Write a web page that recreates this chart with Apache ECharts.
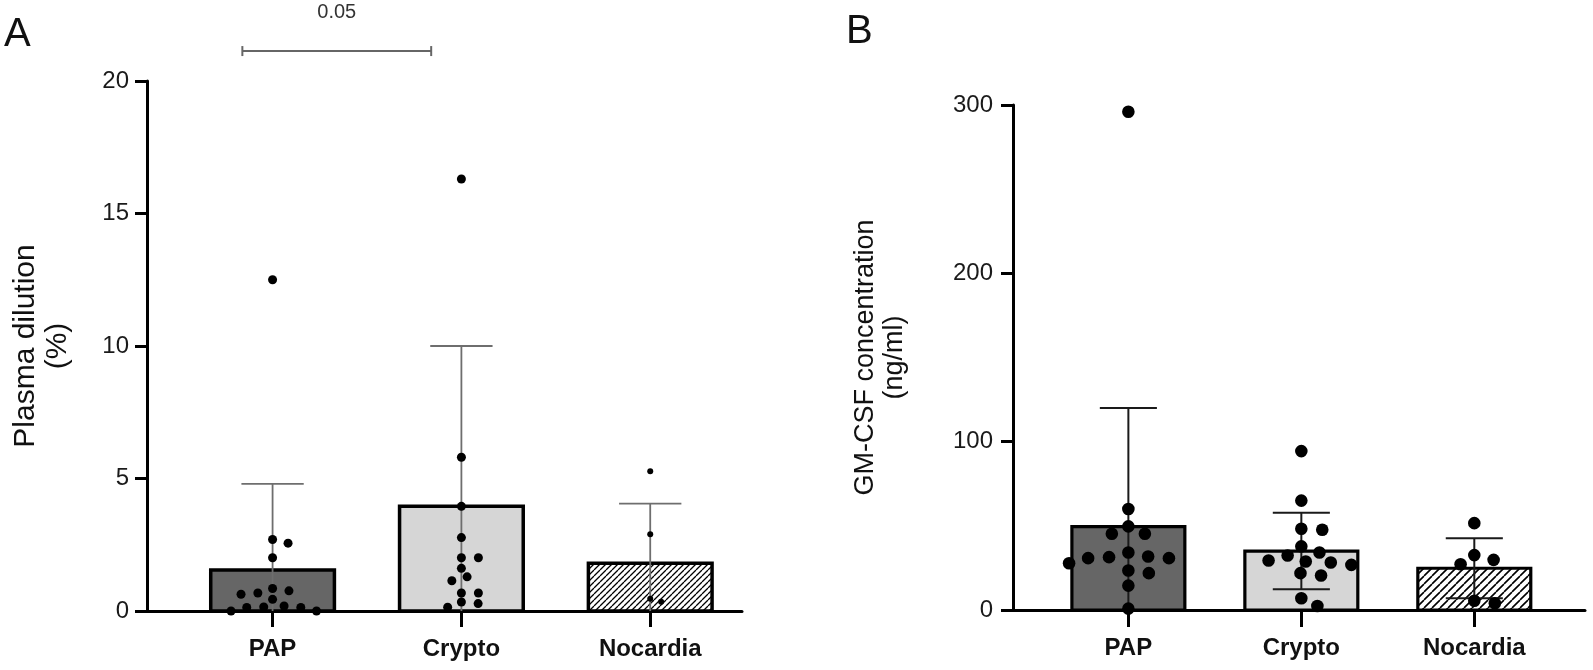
<!DOCTYPE html>
<html><head><meta charset="utf-8">
<script src="https://cdn.jsdelivr.net/npm/echarts@6/dist/echarts.min.js"></script>
<style>html,body{margin:0;padding:0;background:#fff}#c{width:1593px;height:670px}</style>
</head><body><div id="c"></div>
<script>
// ---------- data ----------
const categories = ['PAP', 'Crypto', 'Nocardia'];

// Panel A: Plasma dilution (%)
const plasmaTicks = [0, 5, 10, 15, 20];
const plasmaMeans = [1.55, 3.95, 1.8];
const plasmaSD = [3.25, 6.05, 2.25];
const plasmaPAP = [12.5, 2.70, 2.56, 2.01, 0.85, 0.76, 0.68, 0.63, 0.44, 0.19, 0.15, 0.13, 0.13, 0, 0];
const plasmaCrypto = [16.3, 5.8, 3.95, 2.77, 2.01, 2.01, 1.61, 1.29, 1.14, 0.68, 0.68, 0.34, 0.28, 0.14];
const plasmaNocardia = [5.27, 2.9, 0.46, 0.35];
const comparison = { from: 'PAP', to: 'Crypto', label: '0.05' };

// Panel B: GM-CSF concentration (ng/ml)
const gmTicks = [0, 100, 200, 300];
const gmMeans = [49.5, 35.0, 24.8];
const gmSD = [70.5, 22.7, 17.8];
const gmPAP = [296, 60, 49.7, 45.3, 45.3, 34.2, 31.8, 31.4, 30.8, 30.8, 27.8, 23.5, 21.9, 14.5, 0.8];
const gmCrypto = [94.4, 65, 48.3, 47.7, 37.8, 34.2, 32.4, 29.4, 28.8, 28.2, 26.8, 21.9, 20.5, 7.0, 2.4];
const gmNocardia = [51.6, 32.6, 29.8, 27.2, 5.5, 4.0];

// ---------- helpers ----------
const FONT = '"Liberation Sans", Arial, sans-serif';

function hatch(size, lw) {
  const c = document.createElement('canvas');
  c.width = size; c.height = size;
  const g = c.getContext('2d');
  g.fillStyle = '#fff'; g.fillRect(0, 0, size, size);
  g.strokeStyle = '#000'; g.lineWidth = lw;
  g.beginPath();
  for (let k = -1; k <= 1; k++) { g.moveTo(k * size, size); g.lineTo(k * size + size, 0); }
  g.stroke();
  return { image: c, repeat: 'repeat' };
}

function barSeries(gi, means, fills, borderW, widthFrac) {
  return {
    type: 'custom', xAxisIndex: gi, yAxisIndex: gi, z: 2,
    data: means.map((m, i) => [i, m]),
    renderItem: (params, api) => {
      const i = api.value(0), m = api.value(1);
      const base = api.coord([i, 0]), top = api.coord([i, m]);
      const w = api.size([widthFrac, 0])[0];
      return { type: 'rect',
        shape: { x: base[0] - w / 2, y: top[1], width: w, height: base[1] - top[1] },
        style: { fill: fills[i], stroke: '#000', lineWidth: borderW } };
    }
  };
}

function errSeries(gi, means, sds, color, lw, capFrac) {
  return {
    type: 'custom', xAxisIndex: gi, yAxisIndex: gi, z: 3,
    data: means.map((m, i) => [i, m, sds[i]]),
    renderItem: (params, api) => {
      const i = api.value(0), m = api.value(1), s = api.value(2);
      const pHi = api.coord([i, m + s]), pLo = api.coord([i, Math.max(0, m - s)]);
      const cw = api.size([capFrac, 0])[0];
      const st = { stroke: color, lineWidth: lw };
      const ch = [
        { type: 'line', shape: { x1: pHi[0], y1: pHi[1], x2: pLo[0], y2: pLo[1] }, style: st },
        { type: 'line', shape: { x1: pHi[0] - cw / 2, y1: pHi[1], x2: pHi[0] + cw / 2, y2: pHi[1] }, style: st }
      ];
      if (m - s > 0) ch.push({ type: 'line', shape: { x1: pLo[0] - cw / 2, y1: pLo[1], x2: pLo[0] + cw / 2, y2: pLo[1] }, style: st });
      return { type: 'group', children: ch };
    }
  };
}

// beeswarm: offsets (px) so that dots do not overlap
function swarm(ys, dx, dy) {
  const order = ys.map((y, i) => i).sort((a, b) => ys[a] - ys[b]);
  const placed = [], off = new Array(ys.length);
  for (const i of order) {
    const forb = [];
    for (const p of placed) {
      const d = Math.abs(ys[i] - p.y);
      if (d < dy) { const h = dx * Math.sqrt(1 - (d / dy) * (d / dy)); forb.push([p.x - h, p.x + h]); }
    }
    const cands = [0];
    forb.forEach(f => cands.push(f[0], f[1]));
    cands.sort((a, b) => Math.abs(a) - Math.abs(b) || b - a);
    let x = 0;
    for (const c of cands) {
      if (forb.every(f => c <= f[0] + 1e-6 || c >= f[1] - 1e-6)) { x = c; break; }
    }
    off[i] = x; placed.push({ x: x, y: ys[i] });
  }
  return off;
}

function dotSeries(gi, ci, vals, r, dx, dy) {
  return {
    type: 'custom', xAxisIndex: gi, yAxisIndex: gi, z: 4,
    data: vals.map(v => [ci, v]),
    renderItem: (params, api) => {
      const ys = vals.map(v => api.coord([ci, v])[1]);
      const off = swarm(ys, dx, dy);
      const c = api.coord([api.value(0), api.value(1)]);
      return { type: 'circle', shape: { cx: c[0] + off[params.dataIndex], cy: c[1], r: r }, style: { fill: '#000' } };
    }
  };
}

function bracketSeries(gi, cmp, level, labelLevel) {
  const a = categories.indexOf(cmp.from) - 0.16, b = categories.indexOf(cmp.to) - 0.16;
  return {
    type: 'custom', xAxisIndex: gi, yAxisIndex: gi, z: 5, clip: false,
    data: [[a, b, level, labelLevel]],
    renderItem: (params, api) => {
      const p1 = api.coord([api.value(0), api.value(2)]);
      const p2 = api.coord([api.value(1), api.value(2)]);
      const pl = api.coord([(api.value(0) + api.value(1)) / 2, api.value(3)]);
      const st = { stroke: '#666', lineWidth: 2 };
      return { type: 'group', children: [
        { type: 'line', shape: { x1: p1[0], y1: p1[1], x2: p2[0], y2: p2[1] }, style: st },
        { type: 'line', shape: { x1: p1[0], y1: p1[1] - 5, x2: p1[0], y2: p1[1] + 5 }, style: st },
        { type: 'line', shape: { x1: p2[0], y1: p2[1] - 5, x2: p2[0], y2: p2[1] + 5 }, style: st },
        { type: 'text', x: pl[0], y: pl[1], style: { text: cmp.label, fill: '#333', font: '20px ' + FONT, textAlign: 'center', textVerticalAlign: 'middle' } }
      ] };
    }
  };
}

function xAxis(gi, min, max, tickLen) {
  return {
    type: 'value', gridIndex: gi, min: min, max: max,
    axisLine: { show: true, onZero: false, lineStyle: { color: '#000', width: 3 } },
    axisTick: { show: true, length: tickLen, customValues: [0, 1, 2], lineStyle: { color: '#000', width: 3 } },
    axisLabel: { show: true, customValues: [0, 1, 2], formatter: v => categories[Math.round(v)] || '',
      margin: 26, fontSize: 24, fontWeight: 'bold', color: '#111', fontFamily: FONT },
    splitLine: { show: false }
  };
}

function yAxis(gi, ticks, name, nameSize, nameGap, lineH, labMargin) {
  return {
    type: 'value', gridIndex: gi, min: ticks[0], max: ticks[ticks.length - 1], interval: ticks[1] - ticks[0],
    axisLine: { show: true, onZero: false, lineStyle: { color: '#000', width: 3 } },
    axisTick: { show: true, inside: false, length: 12, lineStyle: { color: '#000', width: 3 } },
    axisLabel: { margin: labMargin, fontSize: 24, color: '#1a1a1a', fontFamily: FONT },
    splitLine: { show: false },
    name: name, nameLocation: 'middle', nameRotate: 90, nameGap: nameGap,
    nameTextStyle: { fontSize: nameSize, color: '#111', fontFamily: FONT, lineHeight: lineH, align: 'center' }
  };
}

const chart = echarts.init(document.getElementById('c'), null, { renderer: 'canvas' });
const hatchA = hatch(6, 1.3), hatchB = hatch(8, 1.6);

chart.setOption({
  animation: false,
  backgroundColor: '#fff',
  grid: [
    { left: 147, right: 851, top: 81, bottom: 59, containLabel: false, outerBoundsMode: 'none' },
    { left: 1013, right: 8, top: 105, bottom: 60, containLabel: false, outerBoundsMode: 'none' }
  ],
  xAxis: [xAxis(0, -0.665, 2.486, 16), xAxis(1, -0.667, 2.64, 17)],
  yAxis: [
    yAxis(0, plasmaTicks, 'Plasma dilution\n(%)', 30, 73, 32, 18),
    yAxis(1, gmTicks, 'GM-CSF concentration\n(ng/ml)', 27, 104, 29, 20)
  ],
  graphic: [
    { type: 'text', left: 4, top: 15, style: { text: 'A', font: '40px ' + FONT, fill: '#111' } },
    { type: 'text', left: 846, top: 12, style: { text: 'B', font: '40px ' + FONT, fill: '#111' } }
  ],
  series: [
    barSeries(0, plasmaMeans, ['#666666', '#d6d6d6', hatchA], 3.5, 0.655),
    errSeries(0, plasmaMeans, plasmaSD, '#6e6e6e', 1.8, 0.33),
    dotSeries(0, 0, plasmaPAP, 4.5, 17, 9),
    dotSeries(0, 1, plasmaCrypto, 4.5, 17, 9),
    dotSeries(0, 2, plasmaNocardia, 3, 12, 7),
    bracketSeries(0, comparison, 21.13, 22.6),
    barSeries(1, gmMeans, ['#666666', '#d6d6d6', hatchB], 3.2, 0.653),
    errSeries(1, gmMeans, gmSD, '#1a1a1a', 2, 0.33),
    dotSeries(1, 0, gmPAP, 6.3, 21, 12),
    dotSeries(1, 1, gmCrypto, 6.3, 21, 12),
    dotSeries(1, 2, gmNocardia, 6.3, 21, 12)
  ]
});
</script>
</body></html>
